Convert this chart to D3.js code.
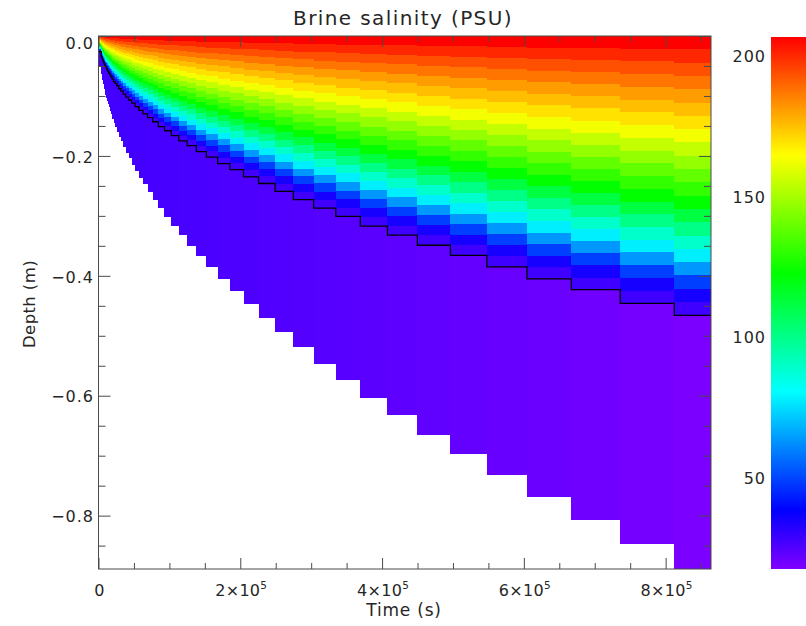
<!DOCTYPE html>
<html>
<head>
<meta charset="utf-8">
<script src="https://cdn.jsdelivr.net/npm/d3@7"></script>
<style>
  html, body { margin: 0; padding: 0; background: #fff; }
  svg { display: block; }
  text { font-family: "DejaVu Sans", sans-serif; fill: #262626; }
</style>
</head>
<body>
<svg id="chart" width="806" height="626"></svg>
<script>
// Start time (s) of each output profile; the last entry closes the final column.
const timeEdges = [0, 3950, 4380, 4800, 5360, 5930, 6490, 7200, 7910, 8750, 9600,
  10590, 11720, 12990, 14260, 15810, 17360, 19200, 21180, 23440, 25840,
  28520, 31480, 34730, 38400, 42350, 46730, 51530, 56890, 62680, 69180,
  76380, 84280, 93040, 102630, 113220, 124940, 137930, 152190, 168000, 185360,
  204570, 225740, 249040, 274870, 303390, 334730, 369320, 407580, 449790, 496380,
  547760, 604370, 666920, 735950, 812200, 864000];

// Ice thickness (m) of each profile.
const iceThickness = [0.050, 0.062, 0.065, 0.068, 0.072, 0.076, 0.080, 0.084, 0.088, 0.092, 0.097,
  0.102, 0.107, 0.113, 0.118, 0.124, 0.130, 0.137, 0.144, 0.151, 0.159,
  0.167, 0.175, 0.184, 0.194, 0.203, 0.214, 0.224, 0.236, 0.247, 0.260,
  0.273, 0.287, 0.301, 0.317, 0.332, 0.349, 0.367, 0.385, 0.405, 0.425,
  0.447, 0.469, 0.493, 0.518, 0.547, 0.573, 0.603, 0.632, 0.664, 0.697,
  0.732, 0.768, 0.807, 0.847, 0.889];

// Depth (m) of the brine interface drawn as the black staircase.
const interfaceDepth = [0.026, 0.033, 0.034, 0.036, 0.038, 0.040, 0.042, 0.044, 0.046, 0.049, 0.051,
  0.053, 0.056, 0.059, 0.062, 0.065, 0.068, 0.072, 0.076, 0.079, 0.083,
  0.088, 0.092, 0.097, 0.102, 0.107, 0.112, 0.118, 0.124, 0.130, 0.136,
  0.143, 0.151, 0.158, 0.166, 0.175, 0.183, 0.193, 0.202, 0.213, 0.223,
  0.235, 0.246, 0.259, 0.273, 0.287, 0.301, 0.317, 0.332, 0.349, 0.366,
  0.385, 0.405, 0.423, 0.446, 0.466];

// Brine salinity (PSU) of the layers between the surface and the interface, top to bottom.
const brineSalinity = [207, 200.5, 194, 187.6, 181, 175.5, 169.6, 163, 155, 147, 139,
  131, 123, 112, 100.5, 89.4, 78, 63.5, 49, 35, 28];

// Brine salinity (PSU) below the interface, one value per profile.
const lowerSalinity = [28.0, 28.0, 28.0, 28.0, 28.0, 28.0, 28.0, 27.9, 27.9, 27.9, 27.9,
  27.9, 27.9, 27.8, 27.8, 27.8, 27.8, 27.8, 27.7, 27.7, 27.7,
  27.7, 27.6, 27.6, 27.6, 27.5, 27.5, 27.4, 27.3, 27.3, 27.2,
  27.1, 27.0, 26.9, 26.8, 26.7, 26.6, 26.4, 26.2, 26.0, 25.8,
  25.6, 25.4, 25.1, 24.8, 24.4, 24.1, 23.7, 23.2, 22.7, 22.2,
  21.6, 21.0, 20.2, 19.2, 18.0];

const timeTicks = [0, 2e5, 4e5, 6e5, 8e5];
const timeMinorTicks = d3.range(0, 864001, 5e4);
const depthTicks = [0, -0.2, -0.4, -0.6, -0.8];
const depthMinorTicks = d3.range(0, -0.89, -0.05);
const salinityTicks = [50, 100, 150, 200];
const salinityRange = [17.5, 207];
const timeDomain = [0, 864000];
const depthDomain = [-0.889, 0];

const svg = d3.select("#chart");
const plot = { left: 98.5, right: 711, top: 36, bottom: 569 };

const x = d3.scaleLinear().domain(timeDomain).range([plot.left, plot.right]);
const y = d3.scaleLinear().domain(depthDomain).range([plot.bottom, plot.top]);
const hue = d3.scaleLinear().domain(salinityRange).range([270, 0]).clamp(true);
const color = s => d3.hsl(hue(s), 1, 0.5).formatHex();

svg.append("clipPath").attr("id", "plotClip")
  .append("rect")
  .attr("x", plot.left).attr("y", plot.top)
  .attr("width", plot.right - plot.left).attr("height", plot.bottom - plot.top);

// One entry per output profile.
const columns = iceThickness.map((h, i) => ({
  t0: timeEdges[i], t1: timeEdges[i + 1], h, zi: interfaceDepth[i], sLow: lowerSalinity[i]
}));

const cells = [];
columns.forEach(c => {
  const n = brineSalinity.length;
  brineSalinity.forEach((s, k) => {
    cells.push({ t0: c.t0, t1: c.t1, ztop: c.zi * k / n, zbot: c.zi * (k + 1) / n, s });
  });
  cells.push({ t0: c.t0, t1: c.t1, ztop: c.zi, zbot: c.h, s: c.sLow });
});

const field = svg.append("g").attr("clip-path", "url(#plotClip)");
field.selectAll("rect.cell").data(cells).join("rect")
  .attr("class", "cell")
  .attr("x", d => x(d.t0))
  .attr("width", d => Math.max(0, x(d.t1) - x(d.t0)) + 0.4)
  .attr("y", d => y(-d.ztop))
  .attr("height", d => y(-d.zbot) - y(-d.ztop) + 0.4)
  .attr("fill", d => color(d.s))
  .attr("shape-rendering", "crispEdges");

// Interface staircase
const stepPts = columns.map(c => [c.t0, -c.zi]);
stepPts.push([timeDomain[1], -columns[columns.length - 1].zi]);
field.append("path")
  .datum(stepPts)
  .attr("fill", "none")
  .attr("stroke", "#000")
  .attr("stroke-width", 1.3)
  .attr("d", d3.line().x(d => x(d[0])).y(d => y(d[1])).curve(d3.curveStepAfter));

// Frame and ticks (inward on all four sides)
const axisColor = "#4a4a4a";
svg.append("rect")
  .attr("x", plot.left).attr("y", plot.top)
  .attr("width", plot.right - plot.left).attr("height", plot.bottom - plot.top)
  .attr("fill", "none").attr("stroke", axisColor).attr("stroke-width", 1);

function tickAxis(axis, transform) {
  const g = svg.append("g").attr("transform", transform).call(axis);
  g.select(".domain").remove();
  g.selectAll(".tick line").attr("stroke", axisColor);
  return g;
}
const isMajorT = v => timeTicks.some(t => Math.abs(t - v) < 1);
const isMajorD = v => depthTicks.some(t => Math.abs(t - v) < 1e-6);

tickAxis(d3.axisBottom(x).tickValues(timeMinorTicks.filter(v => !isMajorT(v))).tickSize(-6).tickFormat(""),
  `translate(0,${plot.bottom})`);
tickAxis(d3.axisBottom(x).tickValues(timeTicks).tickSize(-11).tickFormat(""),
  `translate(0,${plot.bottom})`);
tickAxis(d3.axisTop(x).tickValues(timeMinorTicks.filter(v => !isMajorT(v))).tickSize(-6).tickFormat(""),
  `translate(0,${plot.top})`);
tickAxis(d3.axisTop(x).tickValues(timeTicks).tickSize(-11).tickFormat(""),
  `translate(0,${plot.top})`);
tickAxis(d3.axisLeft(y).tickValues(depthMinorTicks.filter(v => !isMajorD(v))).tickSize(-7).tickFormat(""),
  `translate(${plot.left},0)`);
tickAxis(d3.axisLeft(y).tickValues(depthTicks).tickSize(-12).tickFormat(""),
  `translate(${plot.left},0)`);
tickAxis(d3.axisRight(y).tickValues(depthMinorTicks.filter(v => !isMajorD(v))).tickSize(-7).tickFormat(""),
  `translate(${plot.right},0)`);
tickAxis(d3.axisRight(y).tickValues(depthTicks).tickSize(-12).tickFormat(""),
  `translate(${plot.right},0)`);

// Tick labels
const labelSize = 16;
const xl = svg.append("g").attr("font-size", labelSize).attr("text-anchor", "middle")
  .attr("letter-spacing", 0.3);
timeTicks.forEach(v => {
  const t = xl.append("text").attr("x", x(v) + 1).attr("y", 596);
  if (v === 0) { t.text("0"); return; }
  const m = Math.round(v / 1e5);
  t.append("tspan").text(`${m}\u00d710`);
  t.append("tspan").attr("dy", -7).attr("font-size", 10.5).text("5");
});

const yl = svg.append("g").attr("font-size", labelSize).attr("text-anchor", "end")
  .attr("letter-spacing", 1);
depthTicks.forEach(v => {
  yl.append("text")
    .attr("x", 94)
    .attr("y", y(v) + (v === 0 ? 7 : 1))
    .attr("dy", "0.36em")
    .text(v === 0 ? "0.0" : "\u2212" + Math.abs(v).toFixed(1));
});

svg.append("text").attr("x", 404).attr("y", 616).attr("text-anchor", "middle")
  .attr("font-size", 17).attr("letter-spacing", 0.8).text("Time (s)");
svg.append("text").attr("transform", "translate(35,304) rotate(-90)")
  .attr("text-anchor", "middle").attr("font-size", 16.5).attr("letter-spacing", 0.4).text("Depth (m)");
svg.append("text").attr("x", 403).attr("y", 25).attr("text-anchor", "middle")
  .attr("font-size", 20).attr("letter-spacing", 1.4).text("Brine salinity (PSU)");

// Colour bar
const cb = { left: 771, right: 820, top: 37, bottom: 569 };
const cy = d3.scaleLinear().domain(salinityRange).range([cb.bottom, cb.top]);
const cbSteps = d3.range(cb.top, cb.bottom, 1);
svg.append("g").selectAll("rect").data(cbSteps).join("rect")
  .attr("x", cb.left).attr("width", cb.right - cb.left)
  .attr("y", d => d).attr("height", 1.2)
  .attr("fill", d => color(cy.invert(d + 0.5)))
  .attr("shape-rendering", "crispEdges");

const cl = svg.append("g").attr("font-size", labelSize).attr("text-anchor", "end")
  .attr("letter-spacing", 1);
salinityTicks.forEach(v => {
  cl.append("text").attr("x", 766).attr("y", cy(v)).attr("dy", "0.36em").text(v);
});
</script>
</body>
</html>
